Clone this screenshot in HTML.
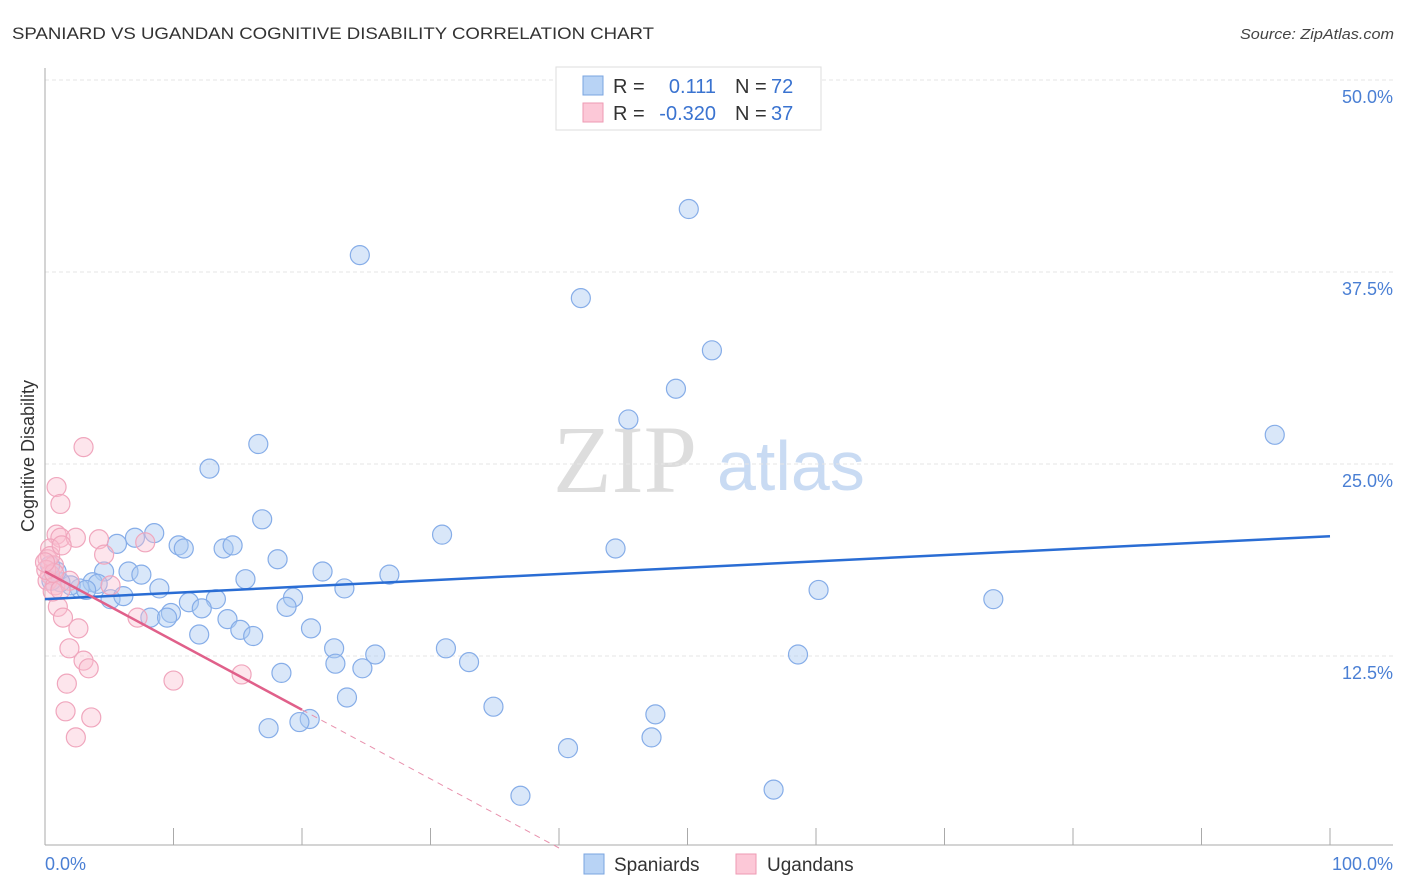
<!DOCTYPE html>
<html><head><meta charset="utf-8"><style>
body{margin:0;background:#fff;font-family:"Liberation Sans",sans-serif;}
svg{display:block}
</style></head><body>
<svg id="chart" width="1406" height="892" xmlns="http://www.w3.org/2000/svg" font-family="Liberation Sans, sans-serif">
<text x="12" y="39" font-size="17" fill="#333" textLength="642" lengthAdjust="spacingAndGlyphs">SPANIARD VS UGANDAN COGNITIVE DISABILITY CORRELATION CHART</text>
<text x="1394" y="39" font-size="15" fill="#444" font-style="italic" text-anchor="end" textLength="154" lengthAdjust="spacingAndGlyphs">Source: ZipAtlas.com</text>
<text x="553" y="492" font-size="96" font-family="Liberation Serif, serif" fill="#ddd">ZIP</text>
<text x="717" y="490" font-size="70" fill="#c9dbf3">atlas</text>
<g id="grid"></g>
<line x1="45" y1="68" x2="45" y2="845" stroke="#aaa" stroke-width="1"/>
<line x1="45" y1="845" x2="1393" y2="845" stroke="#aaa" stroke-width="1"/>
<text transform="translate(34,456) rotate(-90)" font-size="18" fill="#333" text-anchor="middle">Cognitive Disability</text>
<text x="45" y="870" font-size="18" fill="#4a7fd4">0.0%</text>
<text x="1393" y="870" font-size="18" fill="#4a7fd4" text-anchor="end">100.0%</text>
<g id="points"></g>
<g id="trends"></g>
<g>
<rect x="556" y="67" width="265" height="63" fill="#fff" stroke="#ddd"/>
<rect x="583" y="76" width="20" height="19" fill="#b8d3f5" stroke="#7aa5e0"/>
<rect x="583" y="103" width="20" height="19" fill="#fcc8d7" stroke="#ee9ab3"/>
<text x="613" y="93" font-size="20" fill="#333">R =</text>
<text x="716" y="93" font-size="20" fill="#3a73d0" text-anchor="end">0.111</text>
<text x="735" y="93" font-size="20" fill="#333">N =</text>
<text x="771" y="93" font-size="20" fill="#3a73d0">72</text>
<text x="613" y="120" font-size="20" fill="#333">R =</text>
<text x="716" y="120" font-size="20" fill="#3a73d0" text-anchor="end">-0.320</text>
<text x="735" y="120" font-size="20" fill="#333">N =</text>
<text x="771" y="120" font-size="20" fill="#3a73d0">37</text>
</g>
<g><rect x="584" y="854" width="20" height="20" fill="#b8d3f5" stroke="#7aa5e0"/><text x="614" y="871" font-size="19" fill="#333">Spaniards</text></g>
<g><rect x="736" y="854" width="20" height="20" fill="#fcc8d7" stroke="#ee9ab3"/><text x="767" y="871" font-size="19" fill="#333">Ugandans</text></g>
</svg>
<script>
const yTicks=[12.5,25,37.5,50];
const yTickLabels=["12.5%","25.0%","37.5%","50.0%"];
const xTicks=[0,10,20,30,40,50,60,70,80,90,100];
const spaniardsX=[50.1,24.5,41.7,51.9,49.1,45.4,95.7,16.6,12.8,16.9,8.5,7.0,5.6,10.4,10.8,13.9,14.6,30.9,44.4,18.1,6.5,4.6,7.5,21.6,26.8,15.6,8.9,3.7,4.1,23.3,60.2,19.3,73.8,5.1,6.1,2.7,2.0,1.2,0.5,3.2,11.2,13.3,18.8,9.8,8.2,9.5,14.2,12.2,20.7,12.0,15.2,16.2,22.5,25.7,31.2,22.6,24.7,33.0,58.6,18.4,23.5,34.9,47.5,20.6,19.8,17.4,47.2,40.7,37.0,56.7,0.9,0.4];
const spaniardsY=[41.6,38.6,35.8,32.4,29.9,27.9,26.9,26.3,24.7,21.4,20.5,20.2,19.8,19.7,19.5,19.5,19.7,20.4,19.5,18.8,18.0,18.0,17.8,18.0,17.8,17.5,16.9,17.3,17.2,16.9,16.8,16.3,16.2,16.2,16.4,16.9,17.1,17.3,17.4,16.8,16.0,16.2,15.7,15.3,15.0,15.0,14.9,15.6,14.3,13.9,14.2,13.8,13.0,12.6,13.0,12.0,11.7,12.1,12.6,11.4,9.8,9.2,8.7,8.4,8.2,7.8,7.2,6.5,3.4,3.8,18.0,18.4];
const ugandansX=[3.0,0.9,1.2,0.9,1.2,2.4,4.2,7.8,4.6,0.4,0.2,0.7,0.4,0.2,0.8,5.1,1.9,1.0,1.4,2.6,1.9,3.0,3.4,15.3,10.0,1.7,1.6,3.6,2.4,7.2,0.4,0.6,1.3,0.1,0.7,0,1.2];
const ugandansY=[26.1,23.5,22.4,20.4,20.2,20.2,20.1,19.9,19.1,19.5,18.8,18.4,17.8,17.4,17.1,17.1,17.4,15.7,15.0,14.3,13.0,12.2,11.7,11.3,10.9,10.7,8.9,8.5,7.2,15.0,19.0,16.7,19.7,18.1,17.9,18.6,16.8];
const blueTrend=[16.2,20.3];
const pinkTrend=[18.0,-0.45];
const NS="http://www.w3.org/2000/svg";
const xs=v=>45+v*12.85, ys=v=>848-v*15.36;
function mk(t,a,p){const e=document.createElementNS(NS,t);for(const k in a)e.setAttribute(k,a[k]);p.appendChild(e);return e;}
const grid=document.getElementById('grid');
yTicks.forEach((t,i)=>{
 const l=mk('line',{x1:45,x2:1393,y1:ys(t),y2:ys(t),stroke:'#e6e6e6','stroke-dasharray':'4,3'},grid);
 
 
 const tx=mk('text',{x:1393,y:ys(t)+23,'font-size':18,fill:'#4a7fd4','text-anchor':'end'},grid);
 tx.textContent=yTickLabels[i];
 
 
});
xTicks.forEach(t=>{
 const l=mk('line',{x1:xs(t),x2:xs(t),y1:828,y2:845,stroke:'#aaa'},grid);
 
 
});
const pts=document.getElementById('points');
spaniardsX.forEach((x,i)=>{
 const c=mk('circle',{cx:xs(x),cy:ys(spaniardsY[i]),r:9.5,fill:'rgba(170,202,242,0.45)',stroke:'#86ade8','stroke-width':1.2},pts);
 
 
});
ugandansX.forEach((x,i)=>{
 const c=mk('circle',{cx:xs(x),cy:ys(ugandansY[i]),r:9.5,fill:'rgba(250,190,208,0.4)',stroke:'#f0a6bd','stroke-width':1.2},pts);
 
 
});
const tr=document.getElementById('trends');
const b=mk('line',{x1:xs(0),y1:ys(blueTrend[0]),x2:xs(100),y2:ys(blueTrend[1]),stroke:'#2a6dd4','stroke-width':2.5},tr);


const pEnd=-pinkTrend[0]/pinkTrend[1];
const p=mk('line',{x1:xs(0),y1:ys(pinkTrend[0]),x2:xs(20),y2:ys(pinkTrend[0]+pinkTrend[1]*20),stroke:'#e0608a','stroke-width':2.5},tr);


const pd=mk('line',{x1:xs(20),y1:ys(pinkTrend[0]+pinkTrend[1]*20),x2:xs(pEnd),y2:ys(0),stroke:'#e891ad','stroke-width':1,'stroke-dasharray':'6,5'},tr);


</script>
</body></html>
